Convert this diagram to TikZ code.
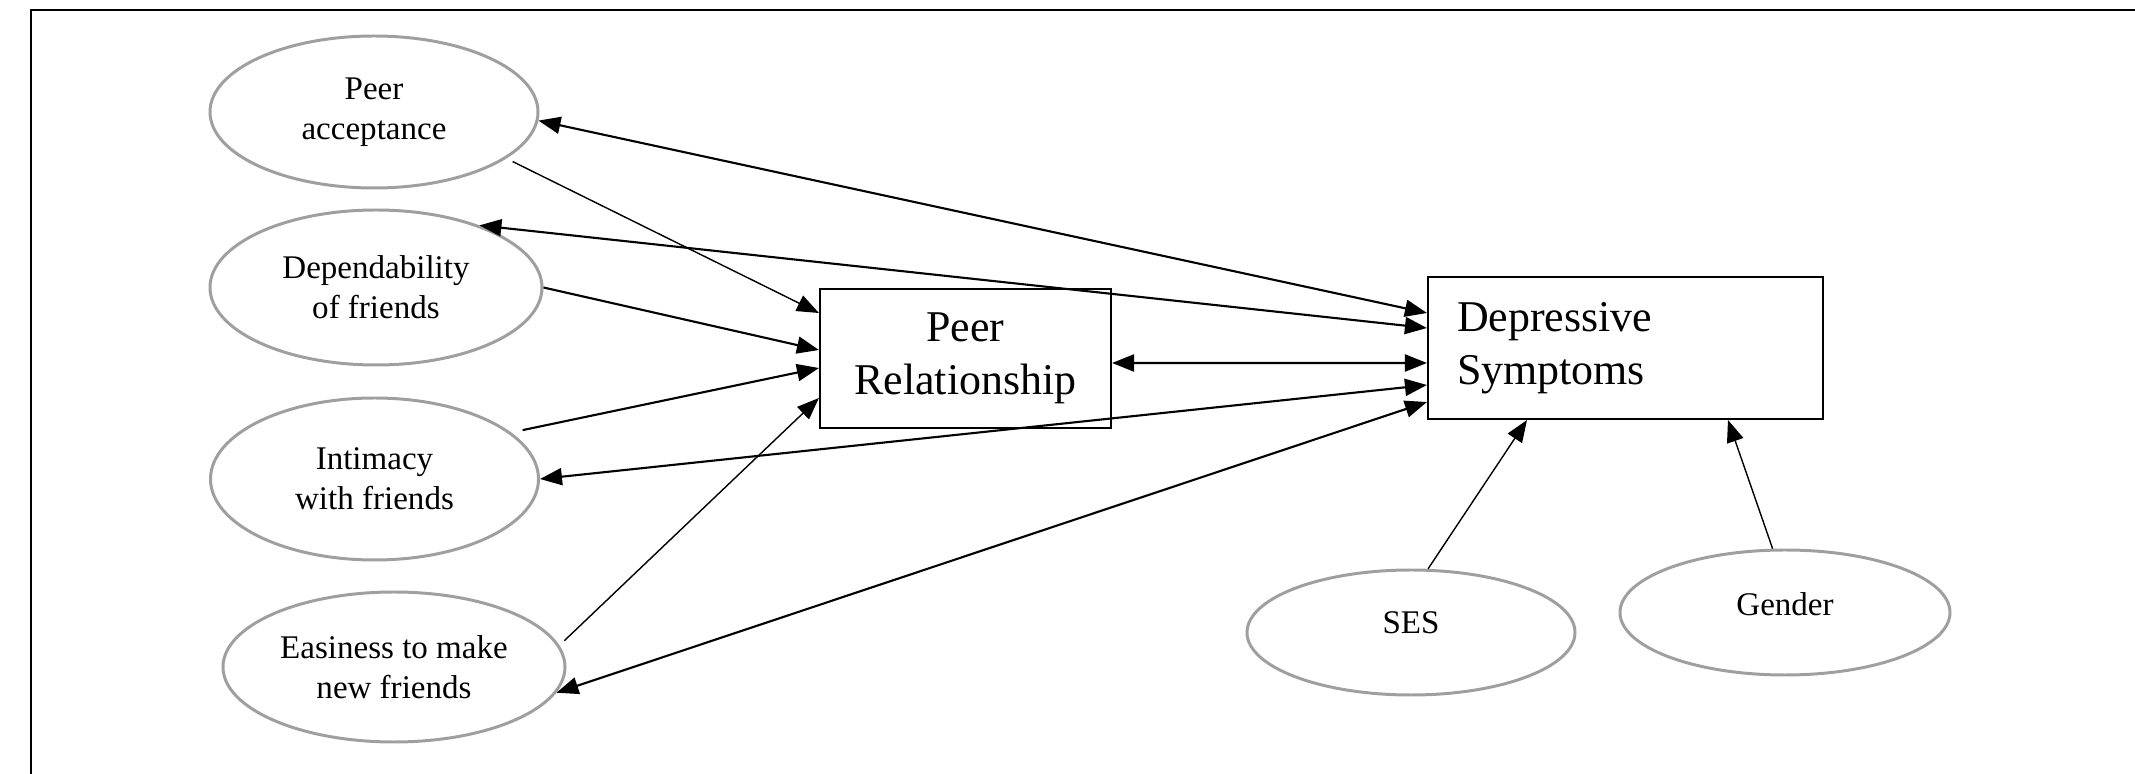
\documentclass[tikz,border=0pt]{standalone}
\usepackage{fontspec}
\setmainfont{Liberation Serif}
\usetikzlibrary{shapes.geometric,arrows.meta}
\begin{document}
\begin{tikzpicture}[
  oval/.style={draw=gray!75,line width=0.85pt,ellipse,inner sep=0pt,align=center,font=\fontsize{9.4}{11.4}\selectfont},
  box/.style={draw,line width=0.6pt,rectangle,inner sep=0pt,align=center,font=\fontsize{12.5}{15}\selectfont},
  arr/.style={line width=0.6pt,-{Triangle[length=0.22cm,width=0.17cm]}},
  dbl/.style={line width=0.6pt,{Triangle[length=0.22cm,width=0.17cm]}-{Triangle[length=0.22cm,width=0.17cm]}},
  fine/.style={line width=0.4pt}]
\useasboundingbox (0,0) rectangle (21.35,-7.74);
\draw[line width=0.6pt] (0.31,-7.74) |- (21.35,-0.10);
\node[oval,minimum width=3.28cm,minimum height=1.52cm] (pa) at (3.74,-1.12) {Peer\\acceptance};
\node[oval,minimum width=3.32cm,minimum height=1.55cm] (dep) at (3.76,-2.875) {Dependability\\of friends};
\node[oval,minimum width=3.28cm,minimum height=1.62cm] (intim) at (3.745,-4.79) {Intimacy\\with friends};
\node[oval,minimum width=3.42cm,minimum height=1.50cm] (eas) at (3.94,-6.67) {Easiness to make\\new friends};
\node[box,minimum width=2.91cm,minimum height=1.39cm] (pr) at (9.655,-3.585) {Peer\\Relationship};
\node[box,minimum width=3.95cm,minimum height=1.42cm,text width=3.37cm,align=left] (ds) at (16.255,-3.48) {Depressive\\Symptoms};
\node[oval,minimum width=3.28cm,minimum height=1.25cm,text depth=0.2cm] (ses) at (14.11,-6.325) {SES};
\node[oval,minimum width=3.30cm,minimum height=1.25cm,text depth=0.17cm] (gen) at (17.85,-6.125) {Gender};
\draw[dbl] (pa.-3) -- ([yshift=0.35cm]ds.west);
\draw[arr,fine] ([shift={(0.08,-0.02)}]pa.-20) -- ([yshift=0.455cm]pr.west);
\draw[dbl] (dep.31) -- ([yshift=0.2cm]ds.west);
\draw[arr] (dep.east) -- ([yshift=0.085cm]pr.west);
\draw[arr] ([shift={(0.12,0.02)}]intim.19) -- ([yshift=-0.095cm]pr.west);
\draw[dbl] ([yshift=-0.045cm]pr.east) -- ([yshift=-0.15cm]ds.west);
\draw[dbl] (intim.east) -- ([yshift=-0.37cm]ds.west);
\draw[arr,fine] ([shift={(0.1,-0.02)}]eas.10) -- ([yshift=-0.395cm]pr.west);
\draw[dbl] (eas.-9) -- ([yshift=-0.54cm]ds.west);
\draw[arr,fine] (ses.75) -- ([xshift=-0.985cm]ds.south);
\draw[arr,fine] (gen.101) -- ([xshift=1.025cm]ds.south);
\end{tikzpicture}
\end{document}
